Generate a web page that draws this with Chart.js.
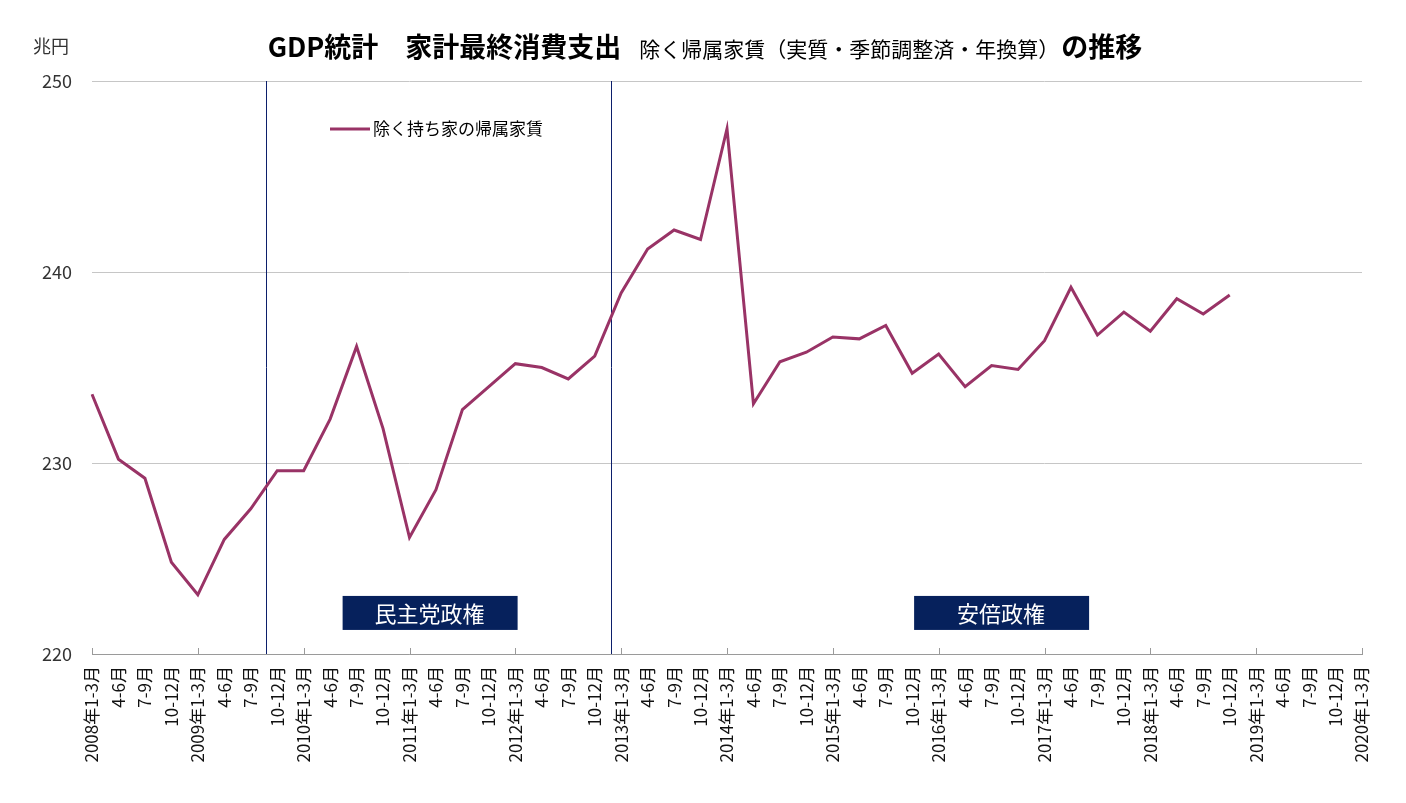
<!DOCTYPE html>
<html>
<head>
<meta charset="utf-8">
<script src="https://cdn.jsdelivr.net/npm/chart.js@4.4.0/dist/chart.umd.min.js"></script>
<style>
  html, body { margin: 0; padding: 0; background: #fff; }
  #wrap { width: 1406px; height: 803px; position: relative; }
</style>
</head>
<body>
<div id="wrap"><canvas id="gdp"></canvas></div>
<script>
// 四半期ラベル（2008年1-3月〜2020年1-3月）
const years = [2008, 2009, 2010, 2011, 2012, 2013, 2014, 2015, 2016, 2017, 2018, 2019, 2020];
const quarters = ['1-3月', '4-6月', '7-9月', '10-12月'];
const labels = [];
years.forEach(y => {
    quarters.forEach((q, i) => {
        if (y === 2020 && i > 0) return;
        labels.push(i === 0 ? y + '年' + q : q);
    });
});

// 除く持ち家の帰属家賃（兆円）
const consumption = [
    233.6, 230.2, 229.2, 224.8,
    223.1, 226.0, 227.6, 229.6,
    229.6, 232.3, 236.1, 231.8,
    226.1, 228.6, 232.8, 234.0,
    235.2, 235.0, 234.4, 235.6,
    238.9, 241.2, 242.2, 241.7,
    247.5, 233.1, 235.3, 235.8,
    236.6, 236.5, 237.2, 234.7,
    235.7, 234.0, 235.1, 234.9,
    236.4, 239.2, 236.7, 237.9,
    236.9, 238.6, 237.8, 238.8
];

const yTicks = [220, 230, 240, 250];

// 政権交代の位置（カテゴリ番号）と政権ラベル
const eraLines = [6.58, 19.62];
const eraNames = ['民主党政権', '安倍政権'];
const eraCenters = [12.76, 34.36];

const FONT = '"Noto Sans CJK JP", "Noto Sans", sans-serif';

const decorPlugin = {
    id: 'decor',
    beforeDatasetsDraw(chart) {
        const ctx = chart.ctx;
        const x = chart.scales.x, y = chart.scales.y;
        const area = chart.chartArea;
        ctx.save();
        // 年の区切りの目盛り（内向き）
        ctx.strokeStyle = '#9a9a9a';
        ctx.lineWidth = 1;
        labels.forEach((l, i) => {
            if (i % 4 !== 0) return;
            const px = Math.round(x.getPixelForValue(i)) + 0.5;
            ctx.beginPath();
            ctx.moveTo(px, area.bottom - 6);
            ctx.lineTo(px, area.bottom);
            ctx.stroke();
        });
        // 政権交代の縦線
        ctx.strokeStyle = '#0c1f6b';
        eraLines.forEach(v => {
            const px = Math.round(x.getPixelForValue(v)) + 0.5;
            ctx.beginPath();
            ctx.moveTo(px, area.top);
            ctx.lineTo(px, area.bottom);
            ctx.stroke();
        });
        // 政権ラベル
        const cy = y.getPixelForValue(222.15);
        eraNames.forEach((name, i) => {
            const cx = x.getPixelForValue(eraCenters[i]);
            ctx.fillStyle = '#06215c';
            ctx.fillRect(cx - 87, cy - 17, 175, 34);
            ctx.fillStyle = '#ffffff';
            ctx.font = '22px ' + FONT;
            ctx.textAlign = 'center';
            ctx.textBaseline = 'middle';
            ctx.fillText(name, cx, cy + 1);
        });
        ctx.restore();
    },
    afterDraw(chart) {
        const ctx = chart.ctx;
        ctx.save();
        // 単位
        ctx.fillStyle = '#333';
        ctx.font = '18px ' + FONT;
        ctx.textBaseline = 'middle';
        ctx.textAlign = 'left';
        ctx.fillText('兆円', 33, 46);

        // タイトル
        const parts = [
            { t: 'GDP統計　家計最終消費支出', f: 'bold 27px ' + FONT, gap: 18 },
            { t: '除く帰属家賃（実質・季節調整済・年換算）', f: '21px ' + FONT, gap: 2 },
            { t: 'の推移', f: 'bold 27px ' + FONT, gap: 0 }
        ];
        let total = 0;
        parts.forEach(p => { ctx.font = p.f; p.w = ctx.measureText(p.t).width; total += p.w + p.gap; });
        let tx = 705 - total / 2;
        ctx.fillStyle = '#000';
        ctx.textBaseline = 'alphabetic';
        parts.forEach(p => {
            ctx.font = p.f;
            ctx.fillText(p.t, tx, 57);
            tx += p.w + p.gap;
        });

        // 凡例
        const ds = chart.data.datasets[0];
        ctx.strokeStyle = ds.borderColor;
        ctx.lineWidth = 3;
        ctx.beginPath();
        ctx.moveTo(330, 129);
        ctx.lineTo(370, 129);
        ctx.stroke();
        ctx.fillStyle = '#000';
        ctx.font = '17px ' + FONT;
        ctx.textBaseline = 'middle';
        ctx.fillText(ds.label, 373, 129);
        ctx.restore();
    }
};

new Chart(document.getElementById('gdp'), {
    type: 'line',
    data: {
        labels: labels,
        datasets: [{
            label: '除く持ち家の帰属家賃',
            data: consumption,
            borderColor: '#993366',
            borderWidth: 3,
            pointRadius: 0,
            tension: 0,
            fill: false
        }]
    },
    options: {
        responsive: true,
        maintainAspectRatio: false,
        animation: false,
        layout: { padding: { top: 81, right: 44, left: 0, bottom: 0 } },
        plugins: {
            legend: { display: false },
            tooltip: { enabled: false }
        },
        scales: {
            x: {
                offset: false,
                grid: { display: false, drawTicks: false },
                border: { display: true, color: '#9a9a9a', width: 1 },
                ticks: {
                    autoSkip: false,
                    maxRotation: 90,
                    minRotation: 90,
                    padding: 12,
                    color: '#111',
                    font: { family: FONT, size: 17 }
                },
                afterFit(scale) { scale.height = 149; }
            },
            y: {
                min: 220,
                max: 250,
                afterBuildTicks(scale) { scale.ticks = yTicks.map(v => ({ value: v })); },
                grid: { color: '#c6c6c6', drawTicks: false },
                border: { display: false },
                ticks: {
                    padding: 20,
                    color: '#333',
                    font: { family: FONT, size: 18 }
                },
                afterFit(scale) { scale.width = 92; }
            }
        }
    },
    plugins: [decorPlugin]
});
</script>
</body>
</html>
